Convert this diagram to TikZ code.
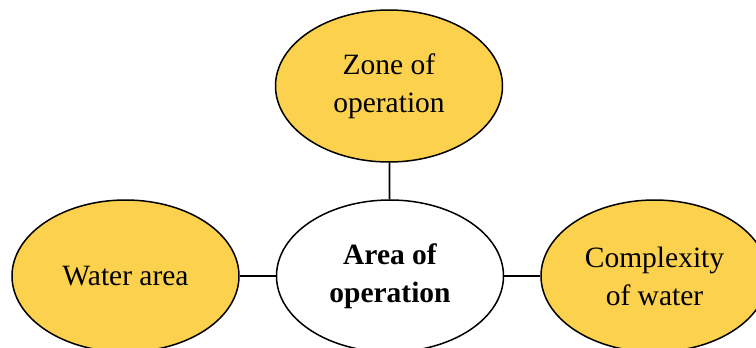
\documentclass[tikz,border=0pt]{standalone}
\usepackage{fontspec}
\setmainfont{Liberation Serif}
\usetikzlibrary{shapes.geometric}
\definecolor{petal}{HTML}{FCD14E}
\tikzset{
  bubble/.style={ellipse, draw=black, line width=1.5pt, minimum width=227pt,
    minimum height=152pt, inner sep=0pt, align=center,
    font=\fontsize{29.5}{38}\selectfont},
  petalbubble/.style={bubble, fill=petal},
  hubbubble/.style={bubble, fill=white, font=\fontsize{29.5}{38}\selectfont\bfseries},
  link/.style={draw=black, line width=1.8pt}
}
\begin{document}
\begin{tikzpicture}[x=1pt,y=-1pt]
  \useasboundingbox (0,0) rectangle (756,348);
  \begin{scope}
    \clip (0,0) rectangle (756,348);
    \node[petalbubble] (zone) at (389,86) {Zone of\\operation};
    \node[hubbubble] (hub) at (390,276) {Area of\\operation};
    \node[petalbubble] (water) at (125.5,276) {Water area};
    \node[petalbubble] (complex) at (654.5,276) {Complexity\\of water};
    \draw[link] (zone) -- (hub);
    \draw[link] (water) -- (hub);
    \draw[link] (hub) -- (complex);
  \end{scope}
\end{tikzpicture}
\end{document}
